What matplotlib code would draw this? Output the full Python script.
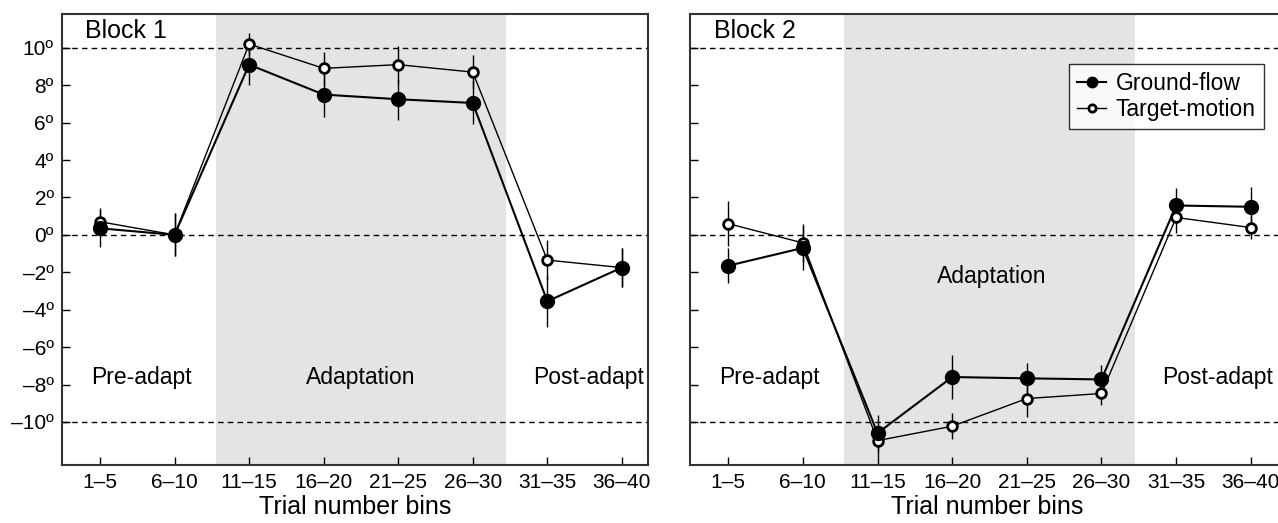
import matplotlib.pyplot as plt

plt.rcParams['font.family'] = ['Liberation Sans', 'DejaVu Sans']

bins = ["1–5", "6–10", "11–15", "16–20", "21–25", "26–30", "31–35", "36–40"]
yticks = [10, 8, 6, 4, 2, 0, -2, -4, -6, -8, -10]
ytick_labels = ["10º", "8º", "6º", "4º", "2º", "0º", "–2º", "–4º", "–6º", "–8º", "–10º"]

# Block 1
b1_ground = [0.35, 0.0, 9.1, 7.5, 7.25, 7.05, -3.55, -1.75]
b1_ground_err = [1.0, 1.15, 1.1, 1.2, 1.1, 1.15, 1.35, 1.05]
b1_target = [0.7, 0.0, 10.2, 8.9, 9.1, 8.7, -1.35, -1.75]
b1_target_err = [0.75, 1.15, 0.6, 0.9, 1.0, 0.9, 1.05, 1.05]

# Block 2
b2_ground = [-1.65, -0.7, -10.6, -7.6, -7.67, -7.73, 1.57, 1.5]
b2_ground_err = [0.93, 1.16, 0.95, 1.2, 0.8, 0.78, 0.95, 1.05]
b2_target = [0.6, -0.43, -11.0, -10.23, -8.75, -8.48, 0.93, 0.39]
b2_target_err = [1.2, 1.0, 0.9, 0.7, 1.0, 0.6, 0.83, 0.6]

fig = plt.figure(figsize=(12.78, 5.23), dpi=100)
ax1 = fig.add_axes([0.0485, 0.111, 0.4585, 0.862])
ax2 = fig.add_axes([0.540, 0.111, 0.465, 0.862])

x = list(range(len(bins)))


def draw(ax, ground, gerr, target, terr, title, xmax):
    ax.axvspan(1.55, 5.45, color='#e4e4e4', zorder=0, lw=0)
    for yv in (10, 0, -10):
        ax.axhline(yv, color='black', lw=1, ls=(0, (4, 3)), zorder=1)
    ax.errorbar(x, target, yerr=terr, fmt='none', ecolor='black', elinewidth=1, zorder=2)
    ax.errorbar(x, ground, yerr=gerr, fmt='none', ecolor='black', elinewidth=1, zorder=2)
    ax.plot(x, target, color='black', lw=1, marker='o', ms=7, mfc='white',
            mec='black', mew=2, zorder=3, label='Target-motion')
    ax.plot(x, ground, color='black', lw=1.5, marker='o', ms=10, mfc='black',
            mec='black', zorder=4, label='Ground-flow')
    ax.set_xlim(-0.51, xmax)
    ax.set_ylim(-12.3, 11.8)
    ax.set_xticks(x)
    ax.set_xticklabels(bins, fontsize=15)
    ax.set_yticks(yticks)
    ax.tick_params(direction='in', length=6, width=1, pad=6)
    ax.set_xlabel("Trial number bins", fontsize=18, labelpad=2)
    for s in ax.spines.values():
        s.set_color('#333333')
        s.set_linewidth(1.5)
    ax.text(0.04, 0.99, title, transform=ax.transAxes, fontsize=18,
            ha='left', va='top')
    ax.text(0.55, -7.6, "Pre-adapt", fontsize=16.5, ha='center', va='center')
    ax.text(6.55, -7.6, "Post-adapt", fontsize=16.5, ha='center', va='center')


draw(ax1, b1_ground, b1_ground_err, b1_target, b1_target_err, "Block 1", 7.35)
ax1.set_yticklabels(ytick_labels, fontsize=15)
ax1.text(3.5, -7.6, "Adaptation", fontsize=16.5, ha='center', va='center')

draw(ax2, b2_ground, b2_ground_err, b2_target, b2_target_err, "Block 2", 7.45)
ax2.set_yticklabels([])
ax2.text(3.53, -2.2, "Adaptation", fontsize=16.5, ha='center', va='center')

handles, labels = ax2.get_legend_handles_labels()
leg = ax2.legend(handles[::-1], labels[::-1], loc='upper right',
                 bbox_to_anchor=(0.965, 0.89), fontsize=16.5, frameon=True,
                 fancybox=False, edgecolor='black', handlelength=1.3,
                 handletextpad=0.4, borderpad=0.35, labelspacing=0.15,
                 borderaxespad=0)
leg.get_frame().set_linewidth(1)
for h in leg.legend_handles:
    h.set_markersize(h.get_markersize() * 0.75)

fig.savefig("out.png", dpi=100)
